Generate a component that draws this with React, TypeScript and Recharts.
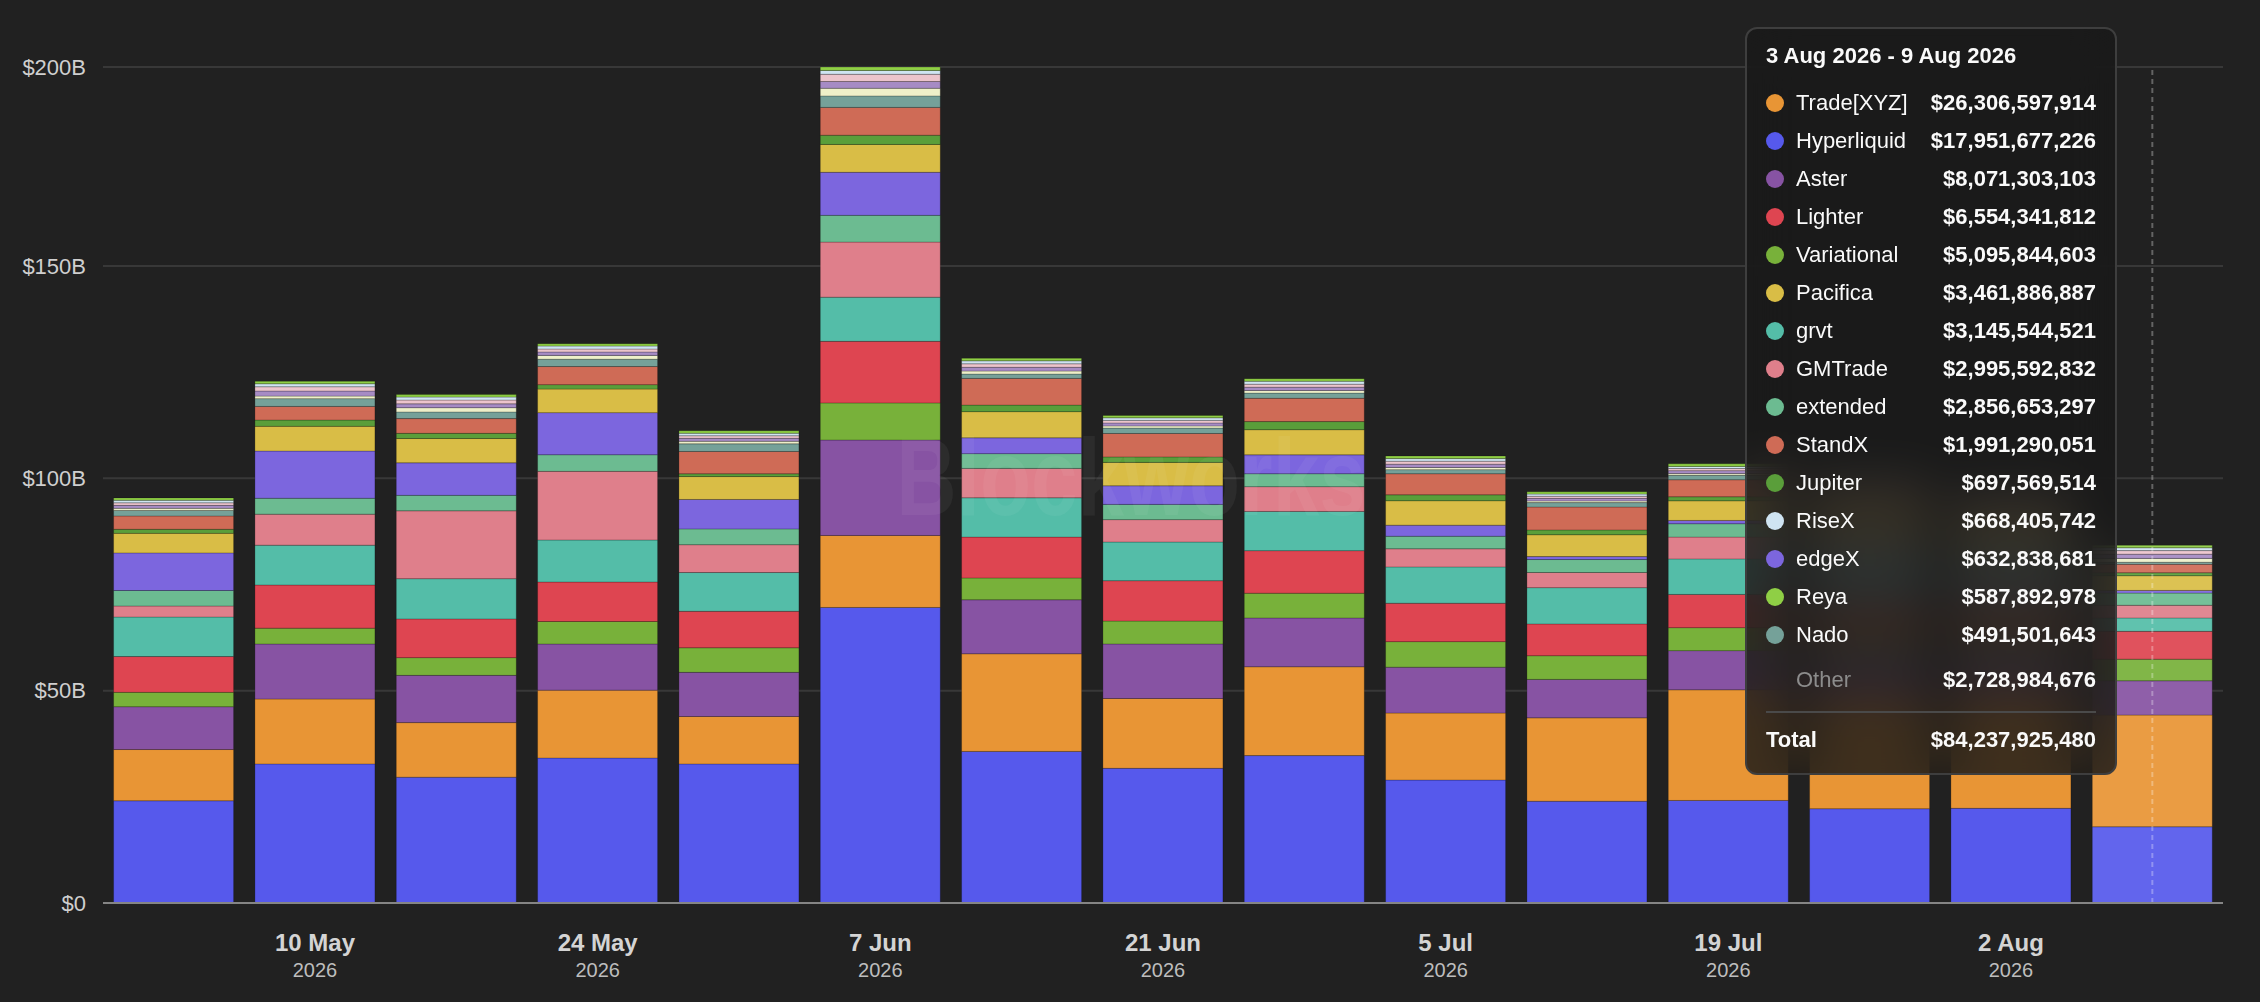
import {
  Bar,
  BarChart,
  CartesianGrid,
  Cell,
  ReferenceLine,
  Tooltip,
  XAxis,
  YAxis,
} from "recharts";

// weekly buckets (Mon - Sun), axis shows the week end
const weekStart = ["27 Apr", "4 May", "11 May", "18 May", "25 May", "1 Jun", "8 Jun", "15 Jun", "22 Jun", "29 Jun", "6 Jul", "13 Jul", "20 Jul", "27 Jul", "3 Aug"];
const weekEnd = ["3 May", "10 May", "17 May", "24 May", "31 May", "7 Jun", "14 Jun", "21 Jun", "28 Jun", "5 Jul", "12 Jul", "19 Jul", "26 Jul", "2 Aug", "9 Aug"];
const YEAR = "2026";

// volumes in $B
const hyperliquid = [24.07, 32.75, 29.63, 34.14, 32.75, 69.6, 35.7, 31.72, 34.71, 28.96, 23.97, 24.15, 22.2, 22.3, 17.951677226];
const tradeXyz = [12.07, 15.29, 12.85, 15.99, 11.17, 16.95, 22.99, 16.44, 20.92, 15.77, 19.63, 26.05, 27.0, 27.5, 26.306597914];
const aster = [10.08, 12.95, 11.13, 10.86, 10.4, 22.48, 12.71, 12.84, 11.49, 10.81, 9.06, 9.23, 9.0, 8.8, 8.071303103];
const variational = [3.39, 3.74, 4.17, 5.3, 5.78, 8.73, 5.14, 5.39, 5.84, 6.01, 5.57, 5.41, 5.5, 5.3, 5.095844603];
const lighter = [8.43, 10.16, 9.12, 9.3, 8.6, 14.51, 9.63, 9.51, 10.01, 9.05, 7.49, 7.83, 7.5, 7.2, 6.554341812];
const grvt = [9.3, 9.38, 9.47, 9.9, 9.12, 10.4, 9.25, 9.11, 9.24, 8.54, 8.54, 8.36, 8.0, 6.5, 3.145544521];
const gmtrade = [2.6, 7.3, 15.98, 16.16, 6.55, 12.97, 6.93, 5.27, 5.83, 4.27, 3.57, 5.14, 4.5, 4.0, 2.995592832];
const extended = [3.65, 3.74, 3.65, 3.91, 3.73, 6.3, 3.47, 3.59, 3.05, 2.96, 3.05, 3.14, 3.0, 3.0, 2.856653297];
const edgex = [8.86, 11.12, 7.65, 9.91, 6.93, 10.14, 3.72, 4.37, 4.44, 2.61, 0.7, 0.78, 0.7, 0.7, 0.632838681];
const pacifica = [4.6, 5.82, 5.73, 5.56, 5.39, 6.55, 6.17, 5.52, 5.93, 5.75, 5.14, 4.62, 4.5, 4.0, 3.461886887];
const jupiter = [0.96, 1.48, 1.22, 1.04, 0.65, 2.18, 1.54, 1.29, 1.91, 1.39, 1.13, 0.95, 0.9, 0.8, 0.697569514];
const standx = [3.13, 3.21, 3.47, 4.26, 5.26, 6.55, 6.29, 5.52, 5.49, 4.97, 5.4, 4.01, 3.5, 3.0, 1.991290051];
const nado = [1.3, 1.83, 1.57, 1.73, 1.8, 2.7, 1.03, 1.28, 1.22, 0.96, 1.04, 1.05, 1.0, 0.8, 0.491501643];
// the small "Other" protocols show up as a few thin stripes
const otherCream = [0.5, 0.6, 1.0, 0.9, 0.6, 1.8, 0.7, 0.5, 0.6, 0.5, 0.4, 0.4, 0.4, 0.5, 0.9];
const otherLavender = [0.7, 1.2, 0.9, 0.8, 0.7, 1.6, 0.9, 0.7, 0.8, 0.8, 0.6, 0.7, 0.7, 0.8, 1.0];
const otherPink = [0.6, 1.0, 0.9, 0.7, 0.6, 1.7, 0.8, 0.6, 0.7, 0.7, 0.5, 0.5, 0.5, 0.6, 0.828984676];
const risex = [0.6, 0.7, 0.7, 0.7, 0.6, 0.9, 0.7, 0.6, 0.7, 0.6, 0.5, 0.5, 0.55, 0.55, 0.668405742];
const reya = [0.56, 0.58, 0.58, 0.55, 0.58, 0.81, 0.62, 0.56, 0.6, 0.62, 0.53, 0.6, 0.55, 0.55, 0.587892978];

type Series = { key: string; name: string; color: string; values: number[]; other?: boolean };

// bottom to top
const SERIES: Series[] = [
  { key: "hyperliquid", name: "Hyperliquid", color: "#5659ec", values: hyperliquid },
  { key: "tradeXyz", name: "Trade[XYZ]", color: "#e89535", values: tradeXyz },
  { key: "aster", name: "Aster", color: "#8753a3", values: aster },
  { key: "variational", name: "Variational", color: "#78b13a", values: variational },
  { key: "lighter", name: "Lighter", color: "#de4551", values: lighter },
  { key: "grvt", name: "grvt", color: "#54bda8", values: grvt },
  { key: "gmtrade", name: "GMTrade", color: "#df7f8b", values: gmtrade },
  { key: "extended", name: "extended", color: "#6cbb91", values: extended },
  { key: "edgex", name: "edgeX", color: "#7c66de", values: edgex },
  { key: "pacifica", name: "Pacifica", color: "#d9bd46", values: pacifica },
  { key: "jupiter", name: "Jupiter", color: "#5a9e3a", values: jupiter },
  { key: "standx", name: "StandX", color: "#cf6b56", values: standx },
  { key: "nado", name: "Nado", color: "#75a199", values: nado },
  { key: "otherCream", name: "Other", color: "#eef0c9", values: otherCream, other: true },
  { key: "otherLavender", name: "Other", color: "#a68bc4", values: otherLavender, other: true },
  { key: "otherPink", name: "Other", color: "#ecc4cc", values: otherPink, other: true },
  { key: "risex", name: "RiseX", color: "#cfe4f2", values: risex },
  { key: "reya", name: "Reya", color: "#8fcf45", values: reya },
];

const HOVER_INDEX = 14;

const data = weekEnd.map((end, i) => {
  const row: Record<string, any> = { end, start: weekStart[i] };
  SERIES.forEach((s) => {
    row[s.key] = s.values[i];
  });
  return row;
});

const totals = weekEnd.map((_, i) => SERIES.reduce((sum, s) => sum + s.values[i], 0));
const maxTotal = Math.max(...totals);

const sig2 = new Intl.NumberFormat("en-US", { maximumSignificantDigits: 2 });
const fmtAxis = (v: number) => `$${sig2.format(v)}${v === 0 ? "" : "B"}`;
const fmtUsd = (v: number) => "$" + Math.round(v * 1e9).toLocaleString("en-US");

function lighten(hex: string, amt: number) {
  const n = parseInt(hex.slice(1), 16);
  const ch = (s: number) => Math.round(((n >> s) & 255) + (255 - ((n >> s) & 255)) * amt);
  return `rgb(${ch(16)},${ch(8)},${ch(0)})`;
}

function DateTick({ x, y, payload, index }: any) {
  if (index % 2 !== 1) return null;
  return (
    <g transform={`translate(${x},${y})`}>
      <text textAnchor="middle" y={48} fontSize={24} fontWeight={700} fill="#d4d4d4">
        {payload.value}
      </text>
      <text textAnchor="middle" y={74} fontSize={20} fill="#bdbdbd">
        {YEAR}
      </text>
    </g>
  );
}

const rowStyle = { display: "flex", alignItems: "center", height: 38 } as const;

function WeekTooltip({ active, payload }: any) {
  if (!active || !payload || !payload.length) return null;
  const row = payload[0].payload;
  const named = SERIES.filter((s) => !s.other)
    .map((s) => ({ name: s.name, color: s.color, value: row[s.key] as number }))
    .sort((a, b) => b.value - a.value);
  const other = SERIES.filter((s) => s.other).reduce((sum, s) => sum + row[s.key], 0);
  const total = SERIES.reduce((sum, s) => sum + row[s.key], 0);

  return (
    <div
      style={{
        width: 372,
        height: 748,
        boxSizing: "border-box",
        border: "2px solid #3e3e3e",
        borderRadius: 12,
        background: "rgba(24,24,24,0.82)",
        backdropFilter: "blur(24px)",
        padding: "0 19px",
        color: "#fafafa",
        fontSize: 22,
      }}
    >
      <div style={{ marginTop: 12, lineHeight: "30px", fontWeight: 700 }}>
        {row.start} {YEAR} - {row.end} {YEAR}
      </div>
      <div style={{ marginTop: 13 }}>
        {named.map((d) => (
          <div key={d.name} style={rowStyle}>
            <span style={{ width: 18, height: 18, borderRadius: 9, background: d.color, marginRight: 12, flexShrink: 0 }} />
            <span style={{ flex: 1 }}>{d.name}</span>
            <span style={{ fontWeight: 700 }}>{fmtUsd(d.value)}</span>
          </div>
        ))}
      </div>
      <div style={{ ...rowStyle, marginTop: 7 }}>
        <span style={{ flex: 1, paddingLeft: 30, color: "#8c8c8c" }}>Other</span>
        <span style={{ fontWeight: 700 }}>{fmtUsd(other)}</span>
      </div>
      <div style={{ marginTop: 12, height: 2, background: "#4a4a4a" }} />
      <div style={{ ...rowStyle, marginTop: 8, fontWeight: 700 }}>
        <span style={{ flex: 1 }}>Total</span>
        <span>{fmtUsd(total)}</span>
      </div>
    </div>
  );
}

export default function App() {
  return (
    <div
      style={{
        position: "relative",
        width: 2260,
        height: 1002,
        background: "#212121",
        fontFamily: "'Liberation Sans', Arial, sans-serif",
      }}
    >
      <style>{"body{margin:0;background:#212121;}"}</style>
      <BarChart
        width={2260}
        height={1002}
        data={data}
        margin={{ top: 67, right: 37, left: 0, bottom: 0 }}
        barCategoryGap="7.5%"
      >
        <CartesianGrid vertical={false} stroke="#383838" strokeWidth={2} />
        <XAxis
          dataKey="end"
          height={99}
          interval={0}
          tickLine={false}
          tickSize={0}
          tickMargin={0}
          axisLine={{ stroke: "#858585", strokeWidth: 2 }}
          tick={<DateTick />}
        />
        <YAxis
          width={103}
          domain={[0, maxTotal]}
          ticks={[0, 50, 100, 150, maxTotal]}
          tickFormatter={fmtAxis}
          axisLine={false}
          tickLine={false}
          tickSize={0}
          tickMargin={17}
          tick={{ fontSize: 22, fill: "#cfcfcf" }}
        />
        <Tooltip
          content={<WeekTooltip />}
          cursor={false}
          active
          defaultIndex={HOVER_INDEX}
          position={{ x: 1745, y: 27 }}
          isAnimationActive={false}
          allowEscapeViewBox={{ x: true, y: true }}
          wrapperStyle={{ outline: "none", zIndex: 10 }}
        />
        {SERIES.map((s) => (
          <Bar
            key={s.key}
            dataKey={s.key}
            name={s.name}
            stackId="volume"
            fill={s.color}
            stroke="rgba(0,0,0,0.22)"
            strokeWidth={1}
            isAnimationActive={false}
          >
            {data.map((_, i) => (
              <Cell key={i} fill={i === HOVER_INDEX ? lighten(s.color, 0.07) : s.color} />
            ))}
          </Bar>
        ))}
        <ReferenceLine
          x={weekEnd[HOVER_INDEX]}
          stroke="rgba(255,255,255,0.3)"
          strokeWidth={2}
          strokeDasharray="5 4"
        />
      </BarChart>
      <div
        style={{
          position: "absolute",
          left: 1131,
          top: 476,
          transform: "translate(-50%, -50%) scaleX(0.76)",
          fontSize: 110,
          fontWeight: 700,
          color: "rgba(255,255,255,0.05)",
          whiteSpace: "nowrap",
          pointerEvents: "none",
          zIndex: 1,
        }}
      >
        Blockworks
      </div>
    </div>
  );
}
